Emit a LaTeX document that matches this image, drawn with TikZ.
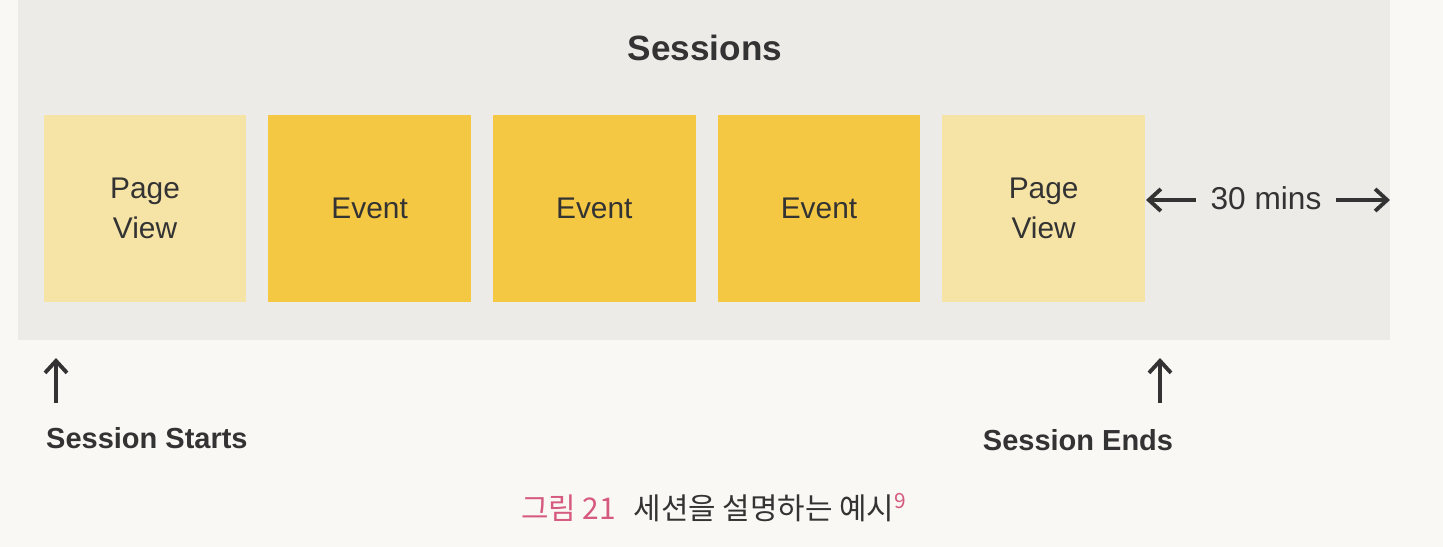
\documentclass[tikz,border=0pt]{standalone}
\usepackage{fontspec}
\setmainfont{Liberation Sans}
\newfontfamily\krfont{Noto Sans CJK KR}
\usetikzlibrary{arrows.meta,positioning}
\definecolor{panelgray}{HTML}{EDEBE8}
\definecolor{paper}{HTML}{F9F8F4}
\definecolor{pvfill}{HTML}{F6E3A6}
\definecolor{evfill}{HTML}{F5C843}
\definecolor{inkgray}{HTML}{333333}
\definecolor{capink}{HTML}{D65A80}

\begin{document}
\begin{tikzpicture}[
    x=0.02cm, y=-0.02cm,
    node distance=0.42cm and 0.42cm,
    hit/.style={
      minimum width=4.06cm,
      minimum height=3.74cm,
      inner sep=0pt,
      align=center,
      text=inkgray,
      font=\fontsize{17}{23}\selectfont,
    },
    pageview/.style={hit, fill=pvfill},
    event/.style={hit, fill=evfill},
    label/.style={text=inkgray, font=\fontsize{16.5}{20}\selectfont\bfseries},
    arrow/.style={
      -{Straight Barb[length=2.4mm,width=4.4mm,line width=2.2pt]},
      line width=2.2pt,
      draw=inkgray,
    },
  ]
    \useasboundingbox (0,0) rectangle (1443,547);
    \fill[paper] (0,0) rectangle (1443,547);
    \fill[panelgray] (18,0) rectangle (1390,340);
    \node[label, font=\fontsize{20}{24}\selectfont\bfseries] (title) at (705,48) {Sessions};
    \node[pageview] (start) at (145,208.5) {Page\\View};
    \node[event, right=of start] (evone) {Event};
    \node[event, right=of evone] (evtwo) {Event};
    \node[event, right=of evtwo] (evthree) {Event};
    \node[pageview, right=of evthree] (last) {Page\\View};
    \node[text=inkgray, font=\fontsize{18}{20}\selectfont] (gap) at (1266,198) {30 mins};
    \coordinate (gapleft) at (1146,200);
    \coordinate (gapright) at (1390,200);
    \draw[arrow] ([xshift=-5pt]gap.west |- gapleft) -- (gapleft);
    \draw[arrow] ([xshift=5pt]gap.east |- gapright) -- (gapright);
    \node[label, anchor=west] (begin) at (40,438) {Session Starts};
    \node[label] (finish) at (1078,440) {Session Ends};
    \coordinate (beginmark) at (56,358);
    \coordinate (finishmark) at (1160,358);
    \draw[arrow] (56,403) -- (beginmark);
    \draw[arrow] (1160,403) -- (finishmark);
    \node[font=\krfont\fontsize{17}{20}\selectfont, text=inkgray] (caption) at (714,508)
      {\textcolor{capink}{그림 21}\hspace{0.6em}세션을 설명하는 예시\textsuperscript{\textcolor{capink}{9}}};
  \end{tikzpicture}
\end{document}
